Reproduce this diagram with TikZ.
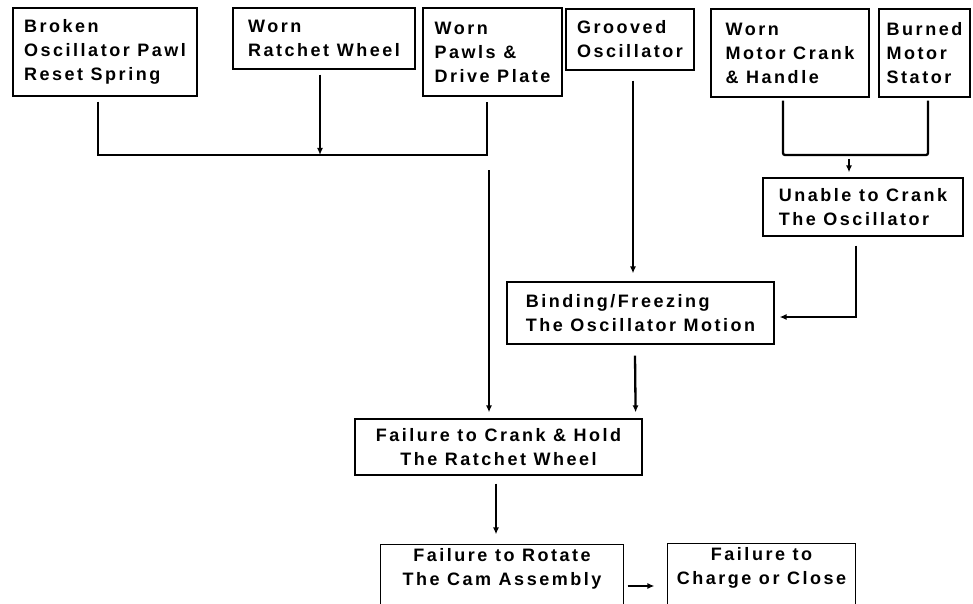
\documentclass[tikz,border=0pt]{standalone}
\usepackage{fontspec}
\usetikzlibrary{arrows.meta}
\newfontfamily\boxfont[LetterSpace=14]{Liberation Sans}
\begin{document}
\begin{tikzpicture}[x=1pt,y=-1pt,
  box/.style={draw, line width=1.2pt, inner sep=0pt, align=left,
    font={\boxfont\bfseries\fontsize{18}{24}\selectfont}},
  openbox/.style={box, draw=none},
  boxline/.style={line width=1.2pt},
  wire/.style={line width=2.3pt},
  tip/.style={-{Latex[length=7pt,width=6pt]}}]
\useasboundingbox (0,0) rectangle (973,604);
\fill[white] (0,0) rectangle (973,604);
\clip (0,0) rectangle (973,604);

% top row of causes
\node[box, minimum width=184pt, minimum height=88pt] (broken) at (105,52)
  {Broken\\Oscillator Pawl\\Reset Spring};
\node[box, minimum width=182pt, minimum height=61pt] (ratchet) at (324,38.5)
  {Worn\\Ratchet Wheel};
\node[box, minimum width=139pt, minimum height=88pt] (pawls) at (492.5,52)
  {Worn\\Pawls \&\\Drive Plate};
\node[box, minimum width=128pt, minimum height=61pt] (grooved) at (630,39.5)
  {Grooved\\Oscillator};
\node[box, minimum width=158pt, minimum height=88pt] (motor) at (790,53)
  {Worn\\Motor Crank\\\& Handle};
\node[box, minimum width=91pt, minimum height=88pt] (stator) at (924.5,53)
  {Burned\\Motor\\Stator};

% intermediate effects
\node[box, minimum width=200pt, minimum height=58pt] (unable) at (863,207)
  {Unable to Crank\\The Oscillator};
\node[box, minimum width=267pt, minimum height=62pt] (binding) at (640.5,313)
  {Binding/Freezing\\The Oscillator Motion};
\node[box, align=center, minimum width=287pt, minimum height=56pt] (crank) at (498.5,447)
  {Failure to Crank \& Hold\\The Ratchet Wheel};

% final effects (boxes run past the lower edge)
\node[openbox, align=center, minimum width=242pt, minimum height=48pt] (rotate) at (502,569)
  {Failure to Rotate\\The Cam Assembly};
\node[openbox, align=center, minimum width=187pt, minimum height=48pt] (charge) at (761.5,568)
  {Failure to\\Charge or Close};
\draw[boxline] ([yshift=-40pt]rotate.south west) -- (rotate.north west)
  -- (rotate.north east) -- ([yshift=-40pt]rotate.south east);
\draw[boxline] ([yshift=-40pt]charge.south west) -- (charge.north west)
  -- (charge.north east) -- ([yshift=-40pt]charge.south east);

% junction points
\coordinate (jM) at (320,155);
\coordinate (jR) at (487,155);
\coordinate (jD) at (489,170);
\coordinate (jS) at (928,155);
\coordinate (jU) at (849,159);

% left group merges into the crank failure
\draw[wire] ([xshift=-7pt,yshift=-5pt]broken.south) |- (jR)
  -- ([xshift=-5.5pt,yshift=-5pt]pawls.south);
\draw[wire,tip] ([xshift=-4pt,yshift=-5pt]ratchet.south) -- (jM);
\draw[wire,tip] (jD) -- ([xshift=-9.5pt,yshift=6pt]crank.north);

% grooved oscillator
\draw[wire,tip] ([xshift=3pt,yshift=-10pt]grooved.south) -- ([xshift=-7.5pt,yshift=8pt]binding.north);

% motor group
\draw[wire, rounded corners=2pt] ([xshift=-7pt,yshift=-3pt]motor.south) |- (jS)
  -- ([xshift=3.5pt,yshift=-3pt]stator.south);
\draw[line width=1.8pt,tip] (jU) -- ([xshift=-14pt,yshift=5pt]unable.north);
\draw[wire,tip] ([xshift=-7pt,yshift=-9pt]unable.south) |- ([xshift=5pt,yshift=-4pt]binding.east);

% down the chain
\draw[wire,tip] ([xshift=-5.5pt,yshift=-11pt]binding.south) -- ([xshift=-7pt,yshift=6pt]crank.north east);
\draw[wire,tip] ([xshift=-2.5pt,yshift=-8pt]crank.south) -- ([xshift=-6pt,yshift=10pt]rotate.north);
\draw[wire,tip] ([xshift=4pt,yshift=-17pt]rotate.east) -- ([xshift=-13pt,yshift=-18pt]charge.west);
\end{tikzpicture}
\end{document}
